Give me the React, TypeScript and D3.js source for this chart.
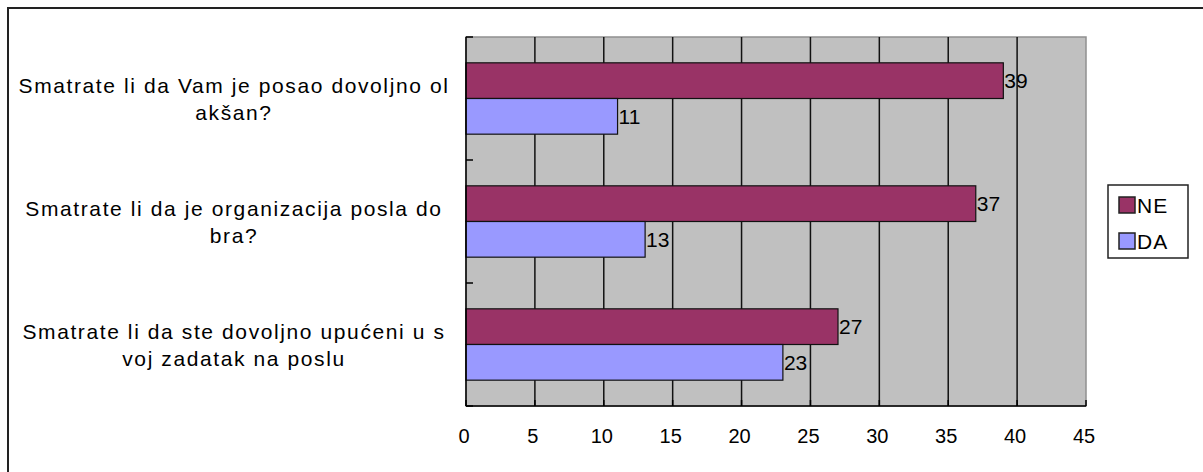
import React from 'react';
import * as d3 from 'd3';

// pitanja (odozgo prema dolje)
const categories = [
  ['Smatrate li da Vam je posao dovoljno ol', 'akšan?'],
  ['Smatrate li da je organizacija posla do', 'bra?'],
  ['Smatrate li da ste dovoljno upućeni u s', 'voj zadatak na poslu'],
];
const series = ['NE', 'DA'];
const neValues = [39, 37, 27];
const daValues = [11, 13, 23];
const xTicks = [0, 5, 10, 15, 20, 25, 30, 35, 40, 45];

const colors: Record<string, string> = { NE: '#993366', DA: '#9999ff' };
const font = 'Arial, "Liberation Sans", sans-serif';

const App = () => {
  const width = 1203;
  const height = 472;
  const plot = { left: 466, right: 1086, top: 37, bottom: 406 };

  const x = d3.scaleLinear().domain([0, 45]).range([plot.left, plot.right]);
  const ids = categories.map((_, i) => String(i));
  const y = d3.scaleBand().domain(ids).range([plot.top, plot.bottom])
    .paddingInner(0.42).paddingOuter(0.21);
  const sub = d3.scaleBand().domain(series).range([0, y.bandwidth()]);
  const step = y.step();
  const boundaries = d3.range(categories.length + 1).map(i => plot.top + i * step);

  const rows = categories.map((c, i) => ({
    id: String(i), lines: c, NE: neValues[i], DA: daValues[i],
  }));

  return (
    <svg width={width} height={height} style={{ position: 'absolute', left: 0, top: 0 }}>
      <rect x={0} y={0} width={width} height={height} fill="#fff" />
      <rect x={8} y={8} width={width + 20} height={height + 20} fill="none" stroke="#222" strokeWidth={2} />

      <rect x={plot.left} y={plot.top} width={plot.right - plot.left} height={plot.bottom - plot.top}
        fill="#c0c0c0" stroke="#909090" strokeWidth={1.5} />

      {xTicks.slice(1, -1).map(t => (
        <line key={t} x1={x(t)} x2={x(t)} y1={plot.top} y2={plot.bottom} stroke="#111" strokeWidth={1.5} />
      ))}

      {rows.map(r => (
        <g key={r.id}>
          {series.map(s => {
            const v = (r as any)[s] as number;
            const y0 = (y(r.id) ?? 0) + (sub(s) ?? 0);
            return (
              <g key={s}>
                <rect x={x(0)} y={y0} width={x(v) - x(0)} height={sub.bandwidth()}
                  fill={colors[s]} stroke="#111" strokeWidth={1.2} />
                <text x={x(v) + 1} y={y0 + sub.bandwidth() / 2} dy="0.36em"
                  fontFamily={font} fontSize={21} fill="#000">{v}</text>
              </g>
            );
          })}
        </g>
      ))}

      {/* osi */}
      <line x1={plot.left} x2={plot.left} y1={plot.top} y2={plot.bottom} stroke="#000" strokeWidth={1.5} />
      <line x1={plot.left} x2={plot.right} y1={plot.bottom} y2={plot.bottom} stroke="#000" strokeWidth={1.5} />
      {boundaries.map((b, i) => (
        <line key={i} x1={plot.left} x2={plot.left + 7} y1={b} y2={b} stroke="#000" strokeWidth={1.5} />
      ))}
      {xTicks.map(t => (
        <line key={t} x1={x(t)} x2={x(t)} y1={plot.bottom} y2={plot.bottom - 6} stroke="#000" strokeWidth={1.5} />
      ))}
      {xTicks.map(t => (
        <text key={t} x={x(t) - 2} y={plot.bottom + 37} textAnchor="middle"
          fontFamily={font} fontSize={20} fill="#000">{t}</text>
      ))}

      {rows.map(r => {
        const cy = (y(r.id) ?? 0) + y.bandwidth() / 2;
        return (
          <text key={r.id} textAnchor="middle" fontFamily={font} fontSize={21}
            letterSpacing={1.6} fill="#000">
            {r.lines.map((l, j) => (
              <tspan key={j} x={234} y={cy - 6 + j * 27}>{l}</tspan>
            ))}
          </text>
        );
      })}

      {/* legenda */}
      <g>
        <rect x={1108} y={185} width={80} height={73} fill="#fff" stroke="#222" strokeWidth={1.5} />
        {series.map((s, i) => (
          <g key={s} transform={`translate(1119,${197 + i * 36})`}>
            <rect x={0} y={0} width={16} height={16} fill={colors[s]} stroke="#222" strokeWidth={1.5} />
            <text x={18} y={8} dy="0.36em" fontFamily={font} fontSize={21} letterSpacing={1} fill="#000">{s}</text>
          </g>
        ))}
      </g>
    </svg>
  );
};

export default App;
